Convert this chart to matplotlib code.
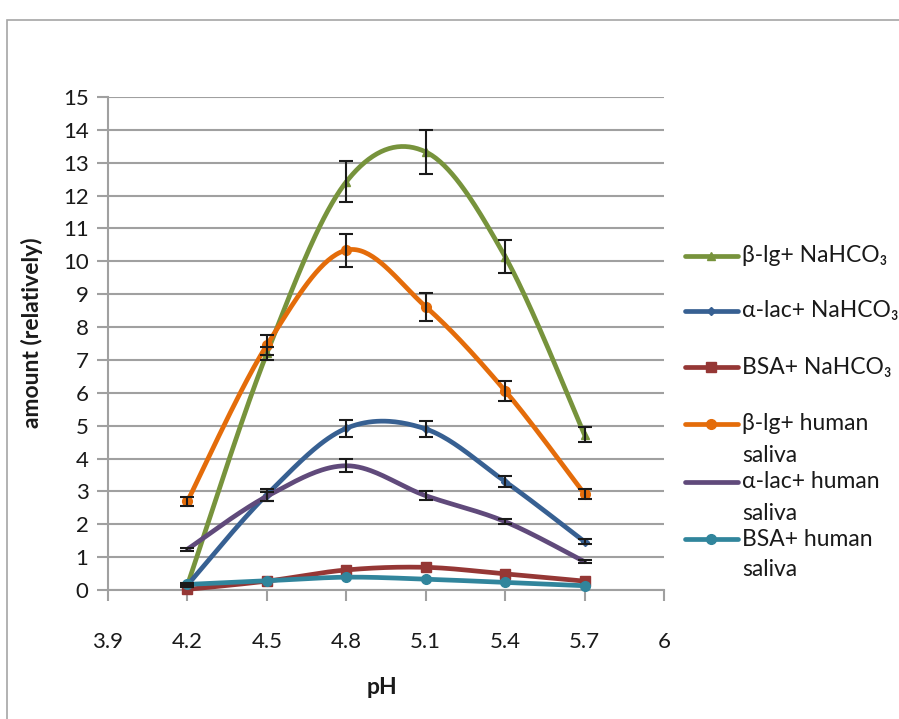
import numpy as np
import matplotlib
matplotlib.use("Agg")
import matplotlib.pyplot as plt
from matplotlib.lines import Line2D
from matplotlib.patches import Rectangle

plt.rcParams["font.family"] = ["Lato", "DejaVu Sans"]

ph = [4.2, 4.5, 4.8, 5.1, 5.4, 5.7]

blg_nahco3 = [0.15, 7.2, 12.42, 13.33, 10.14, 4.72]
blg_nahco3_err = [0.0, 0.2, 0.62, 0.66, 0.5, 0.23]
alac_nahco3 = [0.15, 2.9, 4.92, 4.9, 3.3, 1.47]
alac_nahco3_err = [0.05, 0.18, 0.25, 0.25, 0.17, 0.08]
bsa_nahco3 = [0.02, 0.27, 0.61, 0.69, 0.49, 0.27]
blg_saliva = [2.7, 7.45, 10.34, 8.62, 6.06, 2.92]
blg_saliva_err = [0.14, 0.3, 0.5, 0.43, 0.3, 0.15]
alac_saliva = [1.24, 2.85, 3.78, 2.87, 2.08, 0.86]
alac_saliva_err = [0.05, 0.14, 0.2, 0.14, 0.08, 0.05]
bsa_saliva = [0.17, 0.28, 0.39, 0.33, 0.23, 0.13]

labels = ["β-lg+ NaHCO₃", "α-lac+ NaHCO₃", "BSA+ NaHCO₃",
          "β-lg+ human\nsaliva", "α-lac+ human\nsaliva", "BSA+ human\nsaliva"]
colors = ["#77933C", "#376092", "#953735", "#E46C0A", "#604A7B", "#31859C"]
markers = ["^", "D", "s", "o", None, "o"]
msizes = [6, 4, 7, 7, 0, 7]


def smooth(x, y, n=40):
    # excel style smoothing: bezier through points, catmull-rom control points
    x = np.asarray(x, float)
    y = np.asarray(y, float)
    px = np.concatenate([[x[0]], x, [x[-1]]])
    py = np.concatenate([[y[0]], y, [y[-1]]])
    xs, ys = [], []
    t = np.linspace(0, 1, n)
    for i in range(1, len(px) - 2):
        p1 = np.array([px[i], py[i]])
        p2 = np.array([px[i + 1], py[i + 1]])
        c1 = p1 + (p2 - np.array([px[i - 1], py[i - 1]])) / 6
        c2 = p2 - (np.array([px[i + 2], py[i + 2]]) - p1) / 6
        pts = ((1 - t) ** 3)[:, None] * p1 + (3 * (1 - t) ** 2 * t)[:, None] * c1 \
            + (3 * (1 - t) * t ** 2)[:, None] * c2 + (t ** 3)[:, None] * p2
        xs.extend(pts[:, 0])
        ys.extend(pts[:, 1])
    return xs, ys


fig = plt.figure(figsize=(8.99, 7.19), dpi=100)
fig.add_artist(Rectangle((7 / 899, -0.1), 1.2, 1 - 20 / 719 + 0.1, transform=fig.transFigure,
                         fill=False, edgecolor="#a6a6a6", linewidth=1.2))

ax = fig.add_axes([108 / 899, 1 - 590 / 719, (664 - 108) / 899, (590 - 97) / 719])

series = [blg_nahco3, alac_nahco3, bsa_nahco3, blg_saliva, alac_saliva, bsa_saliva]
errs = [blg_nahco3_err, alac_nahco3_err, None, blg_saliva_err, alac_saliva_err, None]

for i in range(6):
    sx, sy = smooth(ph, series[i])
    ax.plot(sx, sy, color=colors[i], linewidth=3.4, clip_on=False, zorder=3 + i * 0.1,
            solid_capstyle="round")
    if markers[i]:
        ax.plot(ph, series[i], linestyle="none", marker=markers[i], markersize=msizes[i],
                color=colors[i], clip_on=False, zorder=3 + i * 0.1)
    if errs[i] is not None:
        ax.errorbar(ph, series[i], yerr=errs[i], fmt="none", ecolor="#1a1a1a",
                    elinewidth=1.5, capsize=5, capthick=1.5, zorder=5)

ax.set_xlim(3.9, 6.0)
ax.set_ylim(0, 15)
ax.set_xticks([3.9, 4.2, 4.5, 4.8, 5.1, 5.4, 5.7, 6.0])
ax.set_xticklabels(["3.9", "4.2", "4.5", "4.8", "5.1", "5.4", "5.7", "6"])
ax.set_yticks(range(0, 16))
ax.yaxis.grid(True, color="#a0a0a0", linewidth=1.5)
ax.set_axisbelow(True)
for s in ["top", "right"]:
    ax.spines[s].set_visible(False)
for s in ["left", "bottom"]:
    ax.spines[s].set_color("#a0a0a0")
    ax.spines[s].set_linewidth(1.5)
ax.tick_params(axis="both", colors="#a0a0a0", length=8, width=1.5, labelcolor="#1a1a1a",
               labelsize=16)
ax.tick_params(axis="x", pad=22)
ax.tick_params(axis="y", pad=6)

fig.text(32 / 899, 1 - 333 / 719, "amount (relatively)", rotation=90, ha="center", va="center",
         fontsize=16.5, fontweight="bold", color="#1a1a1a")
fig.text(382 / 899, 1 - 688 / 719, "pH", ha="center", va="center",
         fontsize=16.5, fontweight="bold", color="#1a1a1a")

# legend drawn by hand so the handles sit on the first line of wrapped labels
leg_y = [256, 311, 367, 424, 482, 539]
for i in range(6):
    yf = 1 - leg_y[i] / 719
    fig.add_artist(Line2D([685 / 899, 738 / 899], [yf, yf], transform=fig.transFigure,
                          color=colors[i], linewidth=3.4, solid_capstyle="round"))
    if markers[i]:
        fig.add_artist(Line2D([711 / 899], [yf], transform=fig.transFigure, marker=markers[i],
                              markersize=msizes[i], color=colors[i]))
    for k, line in enumerate(labels[i].split("\n")):
        fig.text(742 / 899, 1 - (leg_y[i] + k * 31) / 719, line, ha="left", va="center",
                 fontsize=16.5, color="#1a1a1a")

fig.savefig("out.png", dpi=100)
